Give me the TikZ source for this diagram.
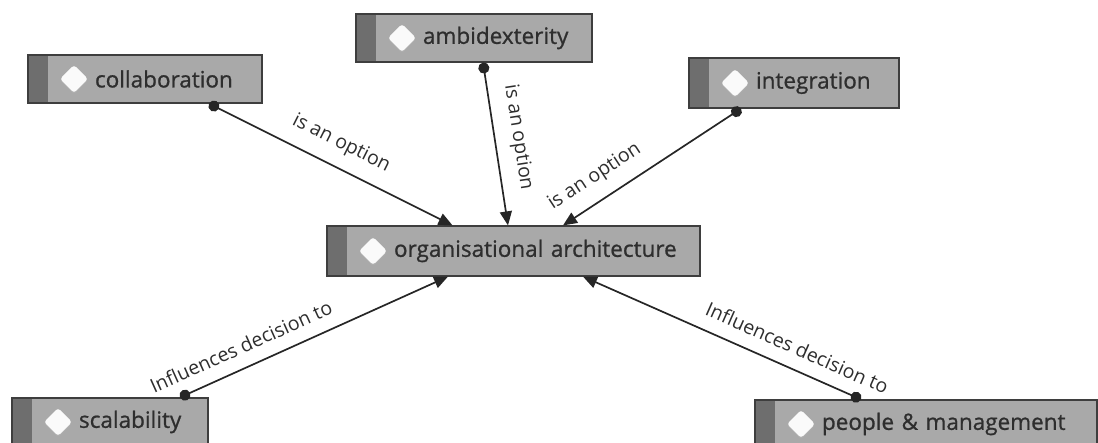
\documentclass[tikz,border=0pt]{standalone}
\usepackage{fontspec}
\setmainfont{Open Sans}
\newfontfamily\conceptfont[FakeBold=0.9]{Open Sans}
\usetikzlibrary{arrows.meta,calc}
\definecolor{boxfill}{HTML}{A9A9A9}
\definecolor{boxstrip}{HTML}{6E6E6E}
\definecolor{boxline}{HTML}{3E3E3E}
\definecolor{textcol}{HTML}{2E2E2E}
\definecolor{linecol}{HTML}{262626}
\begin{document}
\begin{tikzpicture}[x=1pt,y=-1pt,
  concept/.style={draw=boxline, line width=1.2pt, fill=boxfill,
    minimum height=48pt, inner xsep=0pt, inner ysep=0pt,
    text width=#1, align=left, text=textcol,
    font=\conceptfont\fontsize{22.5}{26}\selectfont,
    path picture={
      \fill[boxstrip] (path picture bounding box.north west) rectangle
        ([xshift=20pt]path picture bounding box.south west);
      \coordinate (dm) at ([xshift=46pt]path picture bounding box.west);
      \fill[gray!60, rounded corners=3pt, opacity=0.6]
        ([xshift=-14.5pt,yshift=-1pt]dm) -- ([yshift=13.5pt]dm) -- ([xshift=14.5pt,yshift=-1pt]dm) -- ([yshift=-15.5pt]dm) -- cycle;
      \fill[white!96!gray, rounded corners=3pt]
        ([xshift=-14pt]dm) -- ([yshift=14pt]dm) -- ([xshift=14pt]dm) -- ([yshift=-14pt]dm) -- cycle;
    }},
  link/.style={draw=linecol, line width=1.7pt,
    {Circle[length=11pt]}-{Triangle[length=14pt,width=12pt]}},
  linklabel/.style={font=\fontsize{19.5}{22}\selectfont, text=textcol,
    sloped, above=9pt, inner sep=4pt}]
  \useasboundingbox (0,0) rectangle (1098,443);
  \clip (0,0) rectangle (1098,443);

  % concepts
  \node[concept=234pt] (collab) at (145,79) {\hspace*{67pt}collaboration};
  \node[concept=236pt] (ambi) at (474,38) {\hspace*{67pt}ambidexterity};
  \node[concept=210pt, minimum height=50pt] (integ) at (794,83) {\hspace*{67pt}integration};
  \node[concept=373pt, minimum height=50pt] (org) at (513.5,251) {\hspace*{67pt}organisational architecture};
  \node[concept=196pt] (scal) at (110,422) {\hspace*{67pt}scalability};
  \node[concept=342pt] (people) at (926,424) {\hspace*{67pt}people \& management};

  % relations
  \draw[link] ([xshift=64pt]collab.south) -- node[linklabel, pos=0.50] {is an option} ([xshift=-61pt]org.north);
  \draw[link] ([xshift=9pt]ambi.south) -- node[linklabel, pos=0.48] {is an option} ([xshift=-5.5pt]org.north);
  \draw[link] ([xshift=-53pt]integ.south) -- node[linklabel, pos=0.75] {is an option} ([xshift=49.5pt]org.north);
  \draw[link] ([xshift=70pt]scal.north) -- node[linklabel, pos=0.26] {Influences decision to} ([xshift=-65.5pt]org.south);
  \draw[link] ([xshift=-65pt]people.north) -- node[linklabel, pos=0.26] {Influences decision to} ([xshift=69.5pt]org.south);
\end{tikzpicture}
\end{document}
